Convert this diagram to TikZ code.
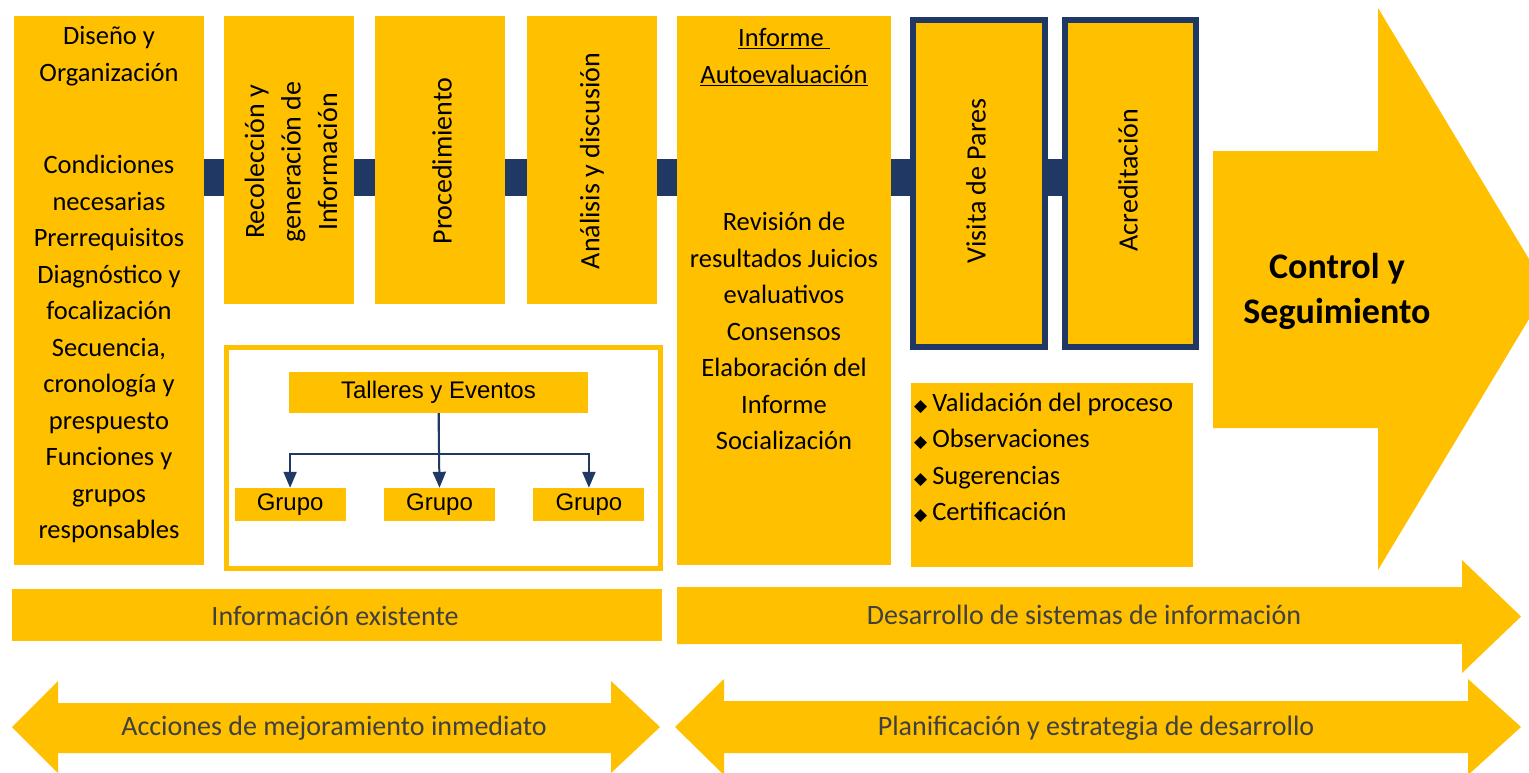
\documentclass[tikz,border=0pt]{standalone}
\usepackage{fontspec}
\setmainfont{Carlito}
\newfontfamily\arialfont{Liberation Sans}
\newfontfamily\symfont{DejaVu Sans}
\usetikzlibrary{positioning,arrows.meta}
\definecolor{oro}{RGB}{255,192,0}
\definecolor{marino}{RGB}{31,56,100}
\newcommand{\rombo}{{\symfont\fontsize{17}{17}\selectfont ◆}\hspace{5pt}}

\begin{document}
\begin{tikzpicture}[x=1pt,y=-1pt,
  caja/.style={fill=oro,inner sep=0pt,anchor=north west},
  marco/.style={caja,draw=marino,line width=6pt},
  barra/.style={draw=marino,line width=37pt},
  texto/.style={font=\fontsize{26.5}{36.5}\selectfont,align=center,inner sep=0pt},
  vertical/.style={texto,rotate=90,font=\fontsize{28}{36.5}\selectfont},
  grupo/.style={fill=oro,font=\arialfont\fontsize{24}{28}\selectfont,
    minimum width=111,minimum height=33,inner sep=0pt},
  flecha/.style={-{Triangle[width=13pt,length=16pt]},draw=marino,line width=2pt},
  pie/.style={font=\fontsize{28}{32}\selectfont,text=black!75,inner sep=0pt}]
  \useasboundingbox (0,0) rectangle (1529,772);
  \fill[white] (0,0) rectangle (1529,772);
  \clip (0,0) rectangle (1529,772);

  % etapas del proceso
  \node[caja,minimum width=190,minimum height=549] (diseno) at (14,16) {};
  \node[caja,minimum width=130,minimum height=288] (recol) at (224,16) {};
  \node[caja,minimum width=130,minimum height=288] (proc) at (375,16) {};
  \node[caja,minimum width=130,minimum height=288] (analisis) at (527,16) {};
  \node[caja,minimum width=214,minimum height=549] (informe) at (677,16) {};
  \node[marco,minimum width=132,minimum height=327] (visita) at (910,17) {};
  \node[marco,minimum width=131,minimum height=327] (acred) at (1062,17) {};
  \node[caja,minimum width=282,minimum height=184] (validacion) at (911,383) {};

  \coordinate (eje) at (0,177.5);
  \draw[barra] (diseno.east |- eje) -- (recol.west |- eje);
  \draw[barra] (recol.east |- eje) -- (proc.west |- eje);
  \draw[barra] (proc.east |- eje) -- (analisis.west |- eje);
  \draw[barra] (analisis.east |- eje) -- (informe.west |- eje);
  \draw[barra] (informe.east |- eje) -- (visita.west |- eje);
  \draw[barra] (visita.east |- eje) -- (acred.west |- eje);

  \node[texto] (t-diseno) at (109,56) {Diseño y\\Organización};
  \node[texto] (t-condic) at (109,349) {Condiciones\\necesarias\\Prerrequisitos\\Diagnóstico y\\focalización\\Secuencia,\\cronología y\\prespuesto\\Funciones y\\grupos\\responsables};
  \node[vertical] (t-recol) at (291,162) {Recolección y\\generación de\\Información};
  \node[vertical] (t-proc) at (442,161) {Procedimiento};
  \node[vertical] (t-analisis) at (592,161) {Análisis y discusión};
  \node[texto] (t-informe) at (784,57) {\underline{Informe\ }\\\underline{Autoevaluación}};
  \node[texto] (t-revision) at (784,331) {Revisión de\\resultados Juicios\\evaluativos\\Consensos\\Elaboración del\\Informe\\Socialización};
  \node[vertical] (t-visita) at (976,181) {Visita de Pares};
  \node[vertical] (t-acred) at (1128,180) {Acreditación};
  \node[texto,align=left,anchor=west] (t-lista) at (914,458)
    {\rombo Validación del proceso\\\rombo Observaciones\\\rombo Sugerencias\\\rombo Certificación};

  % talleres
  \node[caja,fill=white,draw=oro,line width=5pt,minimum width=434,minimum height=221] (talleresmarco) at (223.5,344.5) {};
  \node[grupo,minimum width=299,minimum height=41] (talleres) at (438.5,392.5) {Talleres y Eventos};
  \node[grupo] (grupo2) at (439.5,504.5) {Grupo};
  \node[grupo,left=38 of grupo2] (grupo1) {Grupo};
  \node[grupo,right=38 of grupo2] (grupo3) {Grupo};
  \coordinate (ramal) at (0,454);
  \draw[flecha] (talleres.south) -- (grupo2.north);
  \draw[flecha] (talleres.south) |- (grupo1.north |- ramal) -- (grupo1.north);
  \draw[flecha] (talleres.south) |- (grupo3.north |- ramal) -- (grupo3.north);

  % control y seguimiento
  \fill[oro] (1213,151) -- (1378,151) -- (1378,8) -- (1547,289) -- (1378,570)
    -- (1378,428) -- (1213,428) -- cycle;
  \node[font=\fontsize{36}{45}\selectfont\bfseries,align=center,inner sep=0pt] (control)
    at (1337,291) {Control y\\Seguimiento};

  % franjas inferiores
  \node[caja,minimum width=650,minimum height=52] (existente) at (12,589) {};
  \node[pie] (t-existente) at (335,616) {Información existente};
  \fill[oro] (677,587) -- (1462,587) -- (1462,560) -- (1521,616.5) -- (1462,673)
    -- (1462,644) -- (677,644) -- cycle;
  \node[pie] (t-desarrollo) at (1084,615) {Desarrollo de sistemas de información};
  \fill[oro] (12,727) -- (58,681) -- (58,703) -- (611,703) -- (611,681) -- (660,727)
    -- (611,773) -- (611,753) -- (58,753) -- (58,773) -- cycle;
  \node[pie] (t-acciones) at (334,728) {Acciones de mejoramiento inmediato};
  \fill[oro] (675,727) -- (724,679) -- (724,701) -- (1468,701) -- (1468,679) -- (1521,727)
    -- (1468,775) -- (1468,753) -- (724,753) -- (724,775) -- cycle;
  \node[pie] (t-planif) at (1096,728) {Planificación y estrategia de desarrollo};
\end{tikzpicture}
\end{document}
